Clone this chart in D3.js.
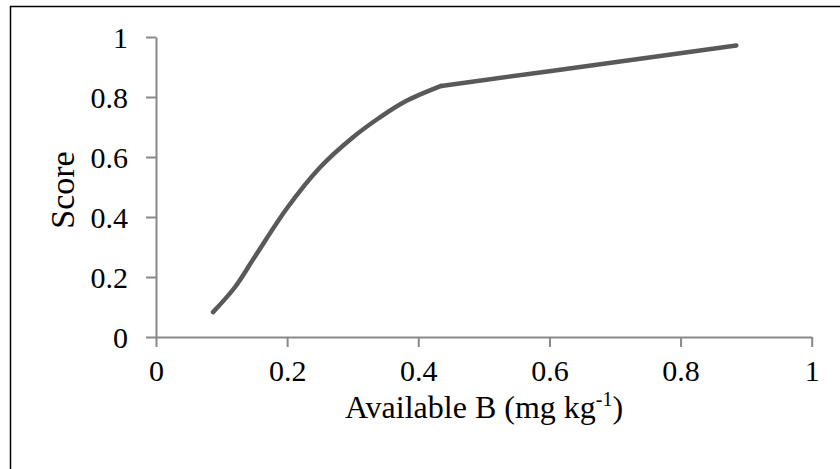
<!DOCTYPE html>
<html><head><meta charset="utf-8">
<script src="https://cdn.jsdelivr.net/npm/d3@7"></script>
<style>body{margin:0;background:#fff}svg{display:block}</style>
</head><body><svg id="c" width="840" height="469"></svg>
<script>
const xValues = [0.087, 0.12, 0.15, 0.2, 0.25, 0.3, 0.34, 0.38, 0.435, 0.6, 0.885];
const scores  = [0.083, 0.165, 0.265, 0.43, 0.565, 0.665, 0.73, 0.785, 0.837, 0.886, 0.972];
const xTicks = [0, 0.2, 0.4, 0.6, 0.8, 1];
const yTicks = [0, 0.2, 0.4, 0.6, 0.8, 1];
const FONT = "'Liberation Serif', 'Times New Roman', serif";

const svg = d3.select("#c");
svg.append("rect").attr("x",10.5).attr("y",6.5).attr("width",840).attr("height",470)
  .attr("fill","#fff").attr("stroke","#000").attr("stroke-width",1.5);

const x = d3.scaleLinear().domain([0,1]).range([156,811.7]);
const y = d3.scaleLinear().domain([0,1]).range([337,37]);
const axisColor = "#888";

const gx = svg.append("g").attr("transform","translate(0,337)")
  .call(d3.axisBottom(x).tickValues(xTicks).tickFormat(d3.format("")).tickSize(10).tickSizeOuter(0));
const gy = svg.append("g").attr("transform","translate(156,0)")
  .call(d3.axisLeft(y).tickValues(yTicks).tickFormat(d3.format("")).tickSize(10).tickSizeOuter(0));
[gx,gy].forEach(g=>{
  g.attr("font-family",null).attr("font-size",null);
  g.select(".domain").attr("stroke",axisColor).attr("stroke-width",2);
  g.selectAll(".tick line").attr("stroke",axisColor).attr("stroke-width",2);
  g.selectAll("text").attr("fill","#000").style("font-size","30px").style("font-family",FONT);
});
gx.selectAll("text").attr("dy","1.03em");
gy.selectAll("text").attr("dx","-15").attr("dy","0.34em");

const pts = xValues.map((v,i)=>[v,scores[i]]);
const cornerIdx = xValues.indexOf(0.435);
const line = c => d3.line().x(d=>x(d[0])).y(d=>y(d[1])).curve(c);
svg.append("path").datum(pts.slice(0,cornerIdx+1))
  .attr("fill","none").attr("stroke","#595959").attr("stroke-width",4.5).attr("stroke-linecap","round").attr("stroke-linejoin","round")
  .attr("d", line(d3.curveCatmullRom.alpha(0.5)));
svg.append("path").datum(pts.slice(cornerIdx))
  .attr("fill","none").attr("stroke","#595959").attr("stroke-width",4.5).attr("stroke-linecap","round").attr("stroke-linejoin","round")
  .attr("d", line(d3.curveLinear));

const xt = svg.append("text").attr("x",484).attr("y",418).attr("text-anchor","middle")
  .style("font-size","32px").style("font-family",FONT);
xt.append("tspan").text("Available B (mg kg");
xt.append("tspan").style("font-size","20px").attr("dy",-12).text("-1");
xt.append("tspan").attr("dy",12).text(")");

svg.append("text").attr("transform","translate(74,190) rotate(-90)").attr("text-anchor","middle")
  .style("font-size","34px").style("font-family",FONT).text("Score");
</script></body></html>
